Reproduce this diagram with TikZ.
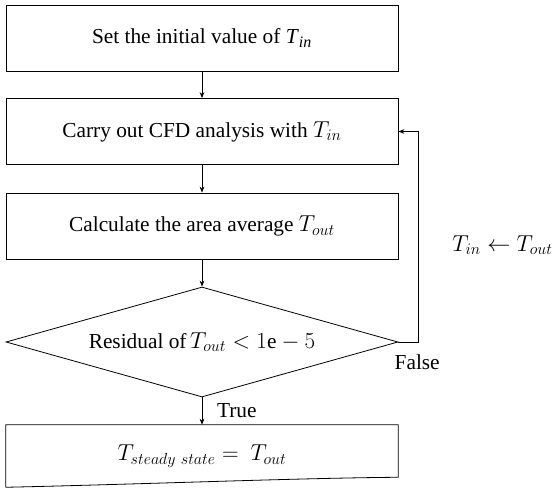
\documentclass[tikz,border=0pt]{standalone}
\usepackage{amsmath}
\usepackage{fontspec}
\setmainfont{Liberation Serif}
\usepackage{tikz}
\usetikzlibrary{positioning,shapes.geometric,arrows.meta}
\DeclareMathSizes{16}{16}{12}{9}

\tikzset{
  box/.style={draw, line width=0.6pt, minimum width=294pt, minimum height=49.5pt, inner sep=0pt},
  decision/.style={draw, diamond, line width=0.6pt, minimum width=294pt, minimum height=82.5pt, aspect=3.56, inner sep=0pt},
  arr/.style={-{Stealth[length=4.5pt,width=3.5pt]}, line width=0.6pt},
}

\begin{document}
\begin{tikzpicture}[x=0.75pt,y=0.75pt,yscale=-1,xscale=1,font=\fontsize{16}{19}\selectfont]
\useasboundingbox (0,0) rectangle (555,488);

% process steps
\node[box] (init) at (202,38) {Set the initial value of \textit{T}\textsubscript{\textit{in}}};
\node[box] (cfd) at (202,131.5) {Carry out CFD analysis with $T_{in}$};
\node[box] (avg) at (202,226) {Calculate the area average $T_{out}$};
\node[decision] (check) at (202,342) {Residual of\,$T_{out} < 1\mathrm{e}-5$};

% result, document shape with a curved bottom
\node[minimum width=294pt, minimum height=46.5pt, inner sep=0pt] (final) at (202,456) {$T_{steady\ state} =\ T_{out}$};
\draw[line width=0.6pt] (final.south west) -- (final.north west) -- (final.north east)
  -- ([yshift=-7.5pt]final.south east)
  .. controls (300,478) and (150,484) .. (final.south west);

% main flow
\draw[arr] (init) -- (cfd);
\draw[arr] (cfd) -- (avg);
\draw[arr] (avg) -- (check);
\draw[arr] (check) -- node[midway, right=11pt, inner sep=0pt] (yes) {True} (final);

% loop back
\draw[arr] (check.east) -- ++(20,0) coordinate (back) |- (cfd.east);
\node[anchor=north west, inner sep=0pt] (no) at ([xshift=-3pt,yshift=9pt]check.east) {False};
\node[anchor=west, inner sep=0pt] (upd) at (452,245) {$T_{in} \leftarrow T_{out}$};
\end{tikzpicture}
\end{document}
